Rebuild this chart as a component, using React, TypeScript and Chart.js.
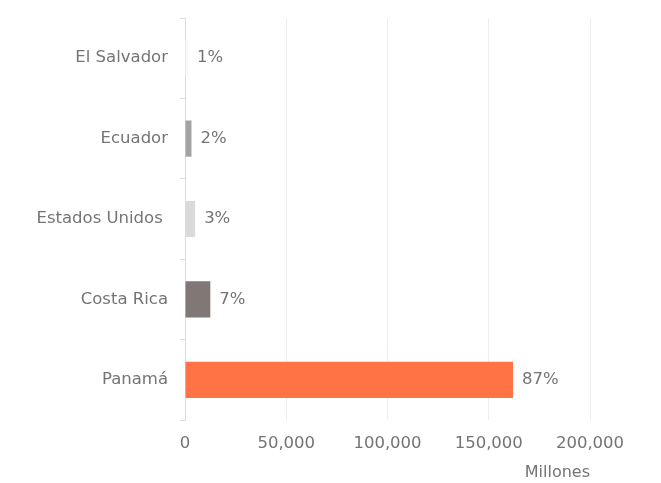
import React, { useEffect, useRef } from "react";
import { Chart, registerables } from "chart.js";

Chart.register(...registerables);

const categories = ["El Salvador", "Ecuador", "Estados Unidos ", "Costa Rica", "Panamá"];
const values = [1500, 3200, 5000, 12500, 162000];
const percentLabels = ["1%", "2%", "3%", "7%", "87%"];
const barColors = ["#F9F9F9", "#A3A3A3", "#DADADA", "#7F7874", "#FF7345"];
const xTicks = [0, 50000, 100000, 150000, 200000];

const FONT = "'DejaVu Sans', Verdana, sans-serif";
const TEXT = "#747474";

const labelPlugin = {
  id: "pctLabels",
  afterDatasetsDraw(chart: any) {
    const ctx = chart.ctx;
    const meta = chart.getDatasetMeta(0);
    ctx.save();
    ctx.font = `16.5px ${FONT}`;
    ctx.fillStyle = TEXT;
    ctx.textBaseline = "middle";
    ctx.textAlign = "left";
    meta.data.forEach((bar: any, i: number) => {
      ctx.fillText(percentLabels[i], bar.x + 9, bar.y);
    });
    ctx.restore();
  },
};

export default function App() {
  const ref = useRef<HTMLCanvasElement | null>(null);
  useEffect(() => {
    document.body.style.margin = "0";
    const chart = new Chart(ref.current as HTMLCanvasElement, {
      type: "bar",
      data: {
        labels: categories,
        datasets: [
          {
            data: values,
            backgroundColor: barColors,
            borderWidth: 0,
            barPercentage: 0.45,
            categoryPercentage: 1,
          },
        ],
      },
      options: {
        indexAxis: "y",
        animation: false,
        responsive: false,
        maintainAspectRatio: false,
        layout: { padding: { top: 18, right: 71, left: 0, bottom: 0 } },
        plugins: { legend: { display: false }, tooltip: { enabled: false } },
        scales: {
          y: {
            afterFit: (s: any) => {
              s.width = 185;
              s.paddingTop = 0;
              s.paddingBottom = 0;
            },
            grid: {
              offset: true,
              drawOnChartArea: false,
              drawTicks: true,
              tickLength: 5,
              color: "#DDDDDD",
            },
            border: { display: true, color: "#DDDDDD" },
            ticks: {
              color: TEXT,
              font: { family: FONT, size: 16.5 },
              padding: 12,
            },
          },
          x: {
            min: 0,
            max: 200000,
            afterFit: (s: any) => {
              s.height = 63;
            },
            afterBuildTicks: (s: any) => {
              s.ticks = xTicks.map((v) => ({ value: v }));
            },
            grid: {
              color: (c: any) => (c.tick && c.tick.value === 0 ? "rgba(0,0,0,0)" : "#EEEEEE"),
              drawTicks: false,
            },
            border: { display: false },
            ticks: {
              color: TEXT,
              font: { family: FONT, size: 16.5 },
              padding: 14,
              callback: (v: any) => Number(v).toLocaleString("en-US"),
            },
            title: {
              display: true,
              text: "Millones",
              align: "end",
              color: TEXT,
              font: { family: FONT, size: 16 },
              padding: { top: 0, bottom: 1 },
            },
          },
        },
      },
      plugins: [labelPlugin],
    });
    return () => chart.destroy();
  }, []);
  return (
    <div style={{ width: 661, height: 483, background: "#fff" }}>
      <canvas ref={ref} width={661} height={483} style={{ display: "block" }} />
    </div>
  );
}
